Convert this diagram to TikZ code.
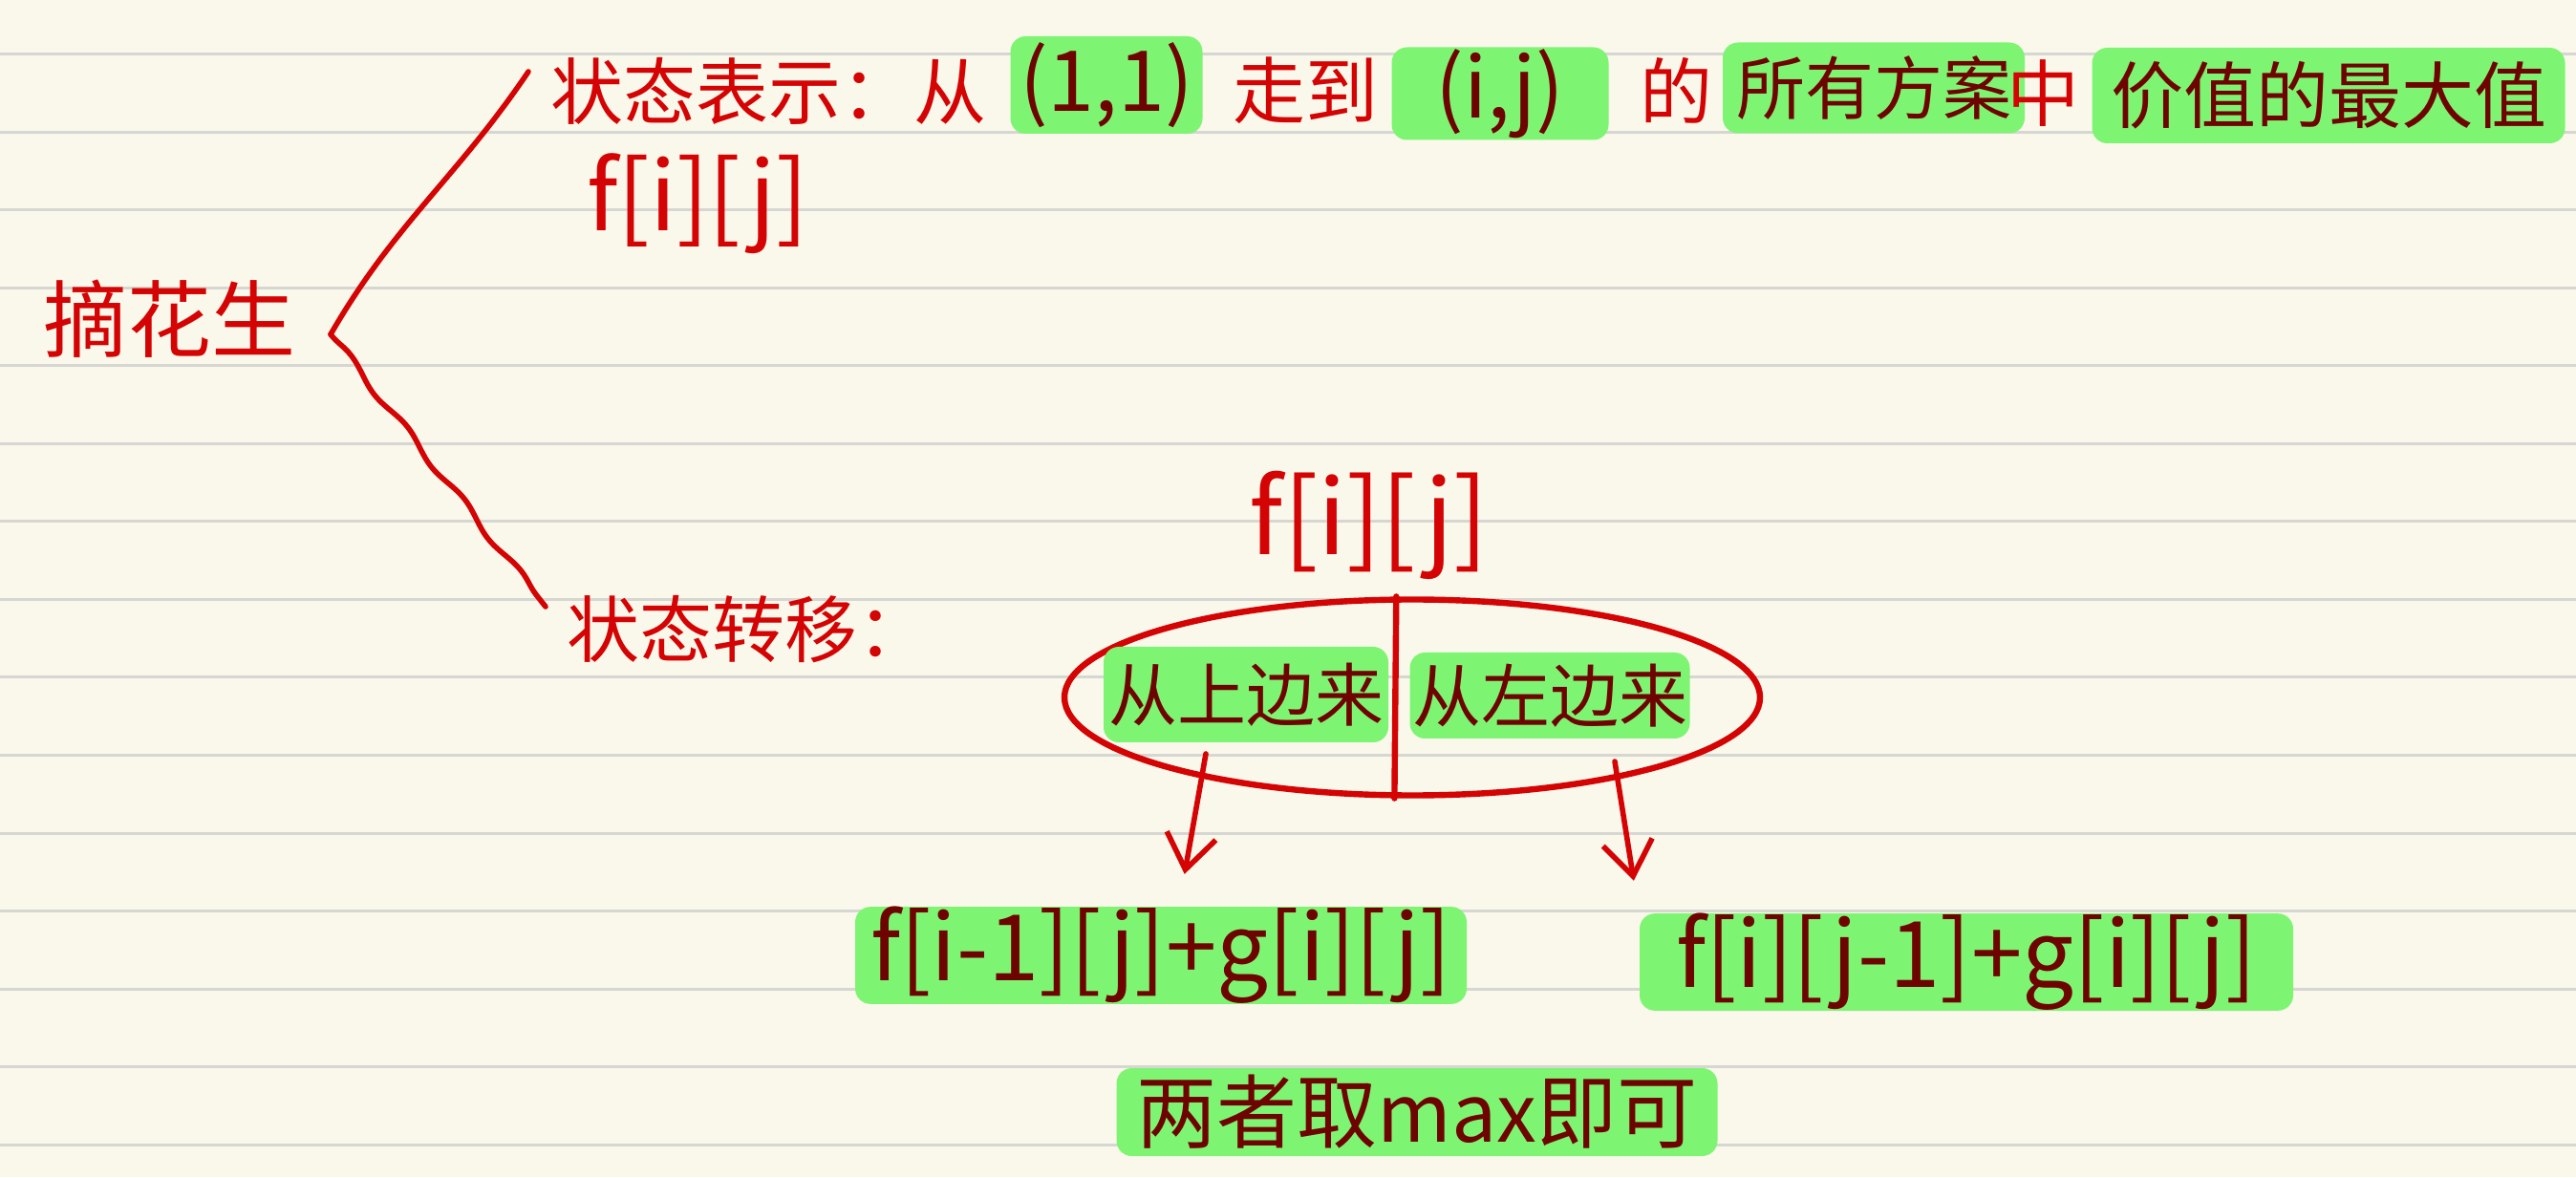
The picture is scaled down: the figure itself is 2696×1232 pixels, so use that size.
\documentclass[tikz,border=0pt]{standalone}
\usepackage{fontspec}
\newfontfamily\cjk{Noto Sans CJK SC}
\usetikzlibrary{arrows.meta, shapes.geometric, decorations.pathmorphing}
\definecolor{paper}{RGB}{250,248,235}
\definecolor{ruling}{RGB}{214,214,210}
\definecolor{penred}{RGB}{212,4,4}
\definecolor{hilite}{RGB}{126,245,114}
\definecolor{inkdark}{RGB}{110,4,0}
\newcommand{\handsize}[1]{\fontsize{#1}{#1}\selectfont}
\tikzset{
    word/.style={
        font=\cjk\handsize{19pt}, text=penred, inner sep=0pt
    },
    glow/.style={
        word, fill=hilite, text=inkdark, rounded corners=4pt
    },
    inkline/.style={
        draw=penred, line width=1.4pt, line cap=round
    },
    mm/.style={
        inkline, -{Straight Barb[length=9pt, width=13pt]}
    },
    wavy/.style={
        decorate, decoration={snake, amplitude=0.8pt, segment length=24pt}
    }
}

\begin{document}
\begin{tikzpicture}[x=0.25pt, y=0.25pt]
        \fill[paper] (0,0) rectangle (2696,1232);
        \useasboundingbox (0,0) rectangle (2696,1232);
        \foreach \k in {0,...,14}
            \draw[ruling, line width=0.75pt] (0,{1175-81.5*\k}) -- (2696,{1175-81.5*\k});

        \node[word, font=\cjk\handsize{22pt}] (root) at (177,898) {摘花生};
        \coordinate (fork)   at (346,882);
        \coordinate (topEnd) at (553,1157);
        \coordinate (lowEnd) at (571,597);

        % state representation
        \node[word, anchor=west] (repr) at (576,1137) {状态表示：从};
        \node[glow, font=\cjk\handsize{22pt}, minimum width=50.25pt, minimum height=25.5pt] (origin) at (1158,1143) {(1,1)};
        \node[word] (walk) at (1366,1137) {走到};
        \node[glow, font=\cjk\handsize{22pt}, minimum width=56.75pt, minimum height=24.25pt] (cell) at (1570,1134) {(i,j)};
        \node[word] (of) at (1754,1137) {的};
        \node[glow, font=\cjk\handsize{18pt}, minimum width=79pt, minimum height=23.75pt] (plans) at (1961,1140) {所有方案};
        \node[word] (among) at (2138,1134) {中};
        \node[glow, minimum width=123.75pt, minimum height=25pt] (best) at (2437,1132) {价值的最大值};
        \node[word, font=\cjk\handsize{25pt}] (fij) at (730,1019) {f[i][j]};

        % state transition
        \node[word, anchor=west] (trans) at (593,573) {状态转移：};
        \node[word, font=\cjk\handsize{27pt}] (target) at (1433,682) {f[i][j]};
        \node[ellipse, inkline, line width=1.6pt, minimum width=182pt, minimum height=51.25pt] (split) at (1478,502) {};
        \draw[inkline, line width=1.6pt] (split.99.5) -- (split.260.5);
        \node[glow, font=\cjk\handsize{18pt}, minimum width=74.5pt, minimum height=25pt] (fromUp) at (1304,505) {从上边来};
        \node[glow, font=\cjk\handsize{18pt}, minimum width=73.25pt, minimum height=22.5pt] (fromLeft) at (1622,504) {从左边来};
        \coordinate (upTail)   at (1262,443);
        \coordinate (leftTail) at (1690,435);

        \node[glow, font=\cjk\handsize{24pt}, minimum width=160pt, minimum height=21pt] (sumUp) at (1215,232) {f[i-1][j]+g[i][j]};
        \node[glow, font=\cjk\handsize{24pt}, minimum width=171pt, minimum height=25.25pt] (sumLeft) at (2058,225) {f[i][j-1]+g[i][j]};
        \node[glow, font=\cjk\handsize{21pt}, minimum width=157.25pt, minimum height=23pt] (pick) at (1483,68) {两者取max即可};

        \path (fork) edge[inkline, out=60, in=236] (topEnd)
              (upTail) edge[mm, shorten >=8.5pt] (sumUp.70)
              (leftTail) edge[mm, shorten >=8.5pt] (sumLeft.north west);
        \draw[inkline, wavy] (fork) -- (lowEnd);
\end{tikzpicture}
\end{document}
